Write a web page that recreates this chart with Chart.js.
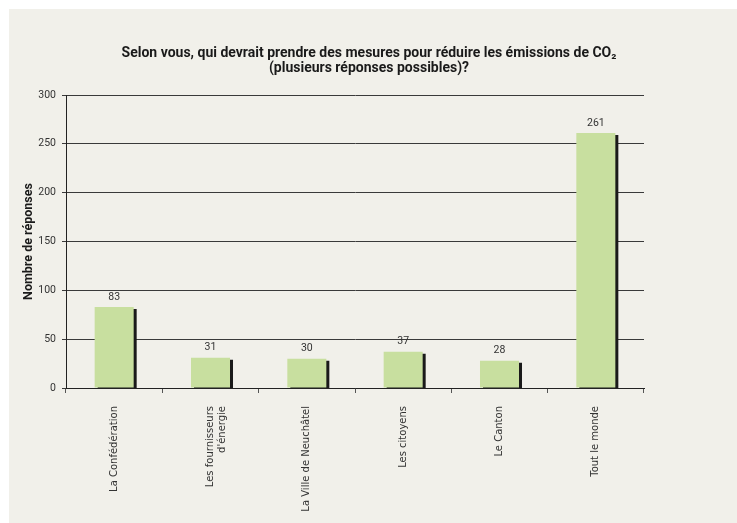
<!DOCTYPE html>
<html>
<head>
<meta charset="utf-8">
<script src="https://cdn.jsdelivr.net/npm/chart.js@4/dist/chart.umd.min.js"></script>
<style>
  html, body { margin: 0; padding: 0; background: #ffffff; }
  #panel {
    position: absolute;
    left: 9px;
    top: 9px;
    width: 728px;
    height: 514px;
    background: #f1f0ea;
  }
</style>
</head>
<body>
<div id="panel"><canvas id="chart" width="728" height="514"></canvas></div>
<script>
const categories = [
  "La Confédération",
  ["Les fournisseurs", "d'énergie"],
  "La Ville de Neuchâtel",
  "Les citoyens",
  "Le Canton",
  "Tout le monde",
];
const responses = [83, 31, 30, 37, 28, 261];
const yTicks = [0, 50, 100, 150, 200, 250, 300];

const titleLines = [
  "Selon vous, qui devrait prendre des mesures pour réduire les émissions de CO₂",
  "(plusieurs réponses possibles)?",
];

// title centred on the whole panel, not only the plot
const panelTitle = {
  id: "panelTitle",
  afterDraw(chart) {
    const ctx = chart.ctx;
    ctx.save();
    ctx.font = "bold 14px Roboto";
    ctx.fillStyle = "#1a1a1a";
    ctx.textAlign = "center";
    ctx.textBaseline = "middle";
    titleLines.forEach((line, i) => {
      ctx.fillText(line, 360, 44 + i * 15);
    });
    ctx.restore();
  },
};

// black drop shadow on the right side of each bar
const barShadow = {
  id: "barShadow",
  beforeDatasetDraw(chart) {
    const ctx = chart.ctx;
    ctx.save();
    ctx.shadowColor = "#1a1a1a";
    ctx.shadowBlur = 0;
    ctx.shadowOffsetX = 3;
    ctx.shadowOffsetY = 2;
  },
  afterDatasetDraw(chart) {
    chart.ctx.restore();
  },
};

// value above each bar
const valueLabels = {
  id: "valueLabels",
  afterDatasetsDraw(chart) {
    const ctx = chart.ctx;
    const meta = chart.getDatasetMeta(0);
    ctx.save();
    ctx.font = "10.5px Roboto";
    ctx.fillStyle = "#333333";
    ctx.textAlign = "center";
    ctx.textBaseline = "middle";
    meta.data.forEach((bar, i) => {
      ctx.fillText(String(responses[i]), bar.x, bar.y - 10);
    });
    ctx.restore();
  },
};

const ctx = document.getElementById("chart").getContext("2d");
new Chart(ctx, {
  type: "bar",
  data: {
    labels: categories,
    datasets: [
      {
        data: responses,
        backgroundColor: "#c8df9f",
        borderWidth: 0,
        barPercentage: 0.405,
        categoryPercentage: 1,
      },
    ],
  },
  options: {
    responsive: false,
    animation: false,
    layout: { padding: { left: 0, right: 93, top: 86, bottom: 0 } },
    plugins: {
      legend: { display: false },
      tooltip: { enabled: false },
      title: { display: false },
    },
    scales: {
      x: {
        afterFit(scale) {
          scale.height = 135;
        },
        border: { color: "#222222", width: 1 },
        grid: {
          drawOnChartArea: false,
          drawTicks: true,
          tickLength: 5,
          color: "#555555",
        },
        ticks: {
          minRotation: 90,
          maxRotation: 90,
          autoSkip: false,
          padding: 13,
          color: "#333333",
          font: { family: "DejaVu Sans", size: 10 },
        },
      },
      y: {
        min: 0,
        max: 300,
        afterFit(scale) {
          scale.width = 57;
        },
        afterBuildTicks(scale) {
          scale.ticks = yTicks.map((v) => ({ value: v }));
        },
        border: { color: "#222222", width: 1 },
        grid: {
          color: "#3a3a3a",
          lineWidth: 1,
          drawTicks: true,
          tickLength: 4,
        },
        ticks: {
          padding: 6,
          color: "#333333",
          font: { family: "Roboto", size: 10.5 },
        },
        title: {
          display: true,
          text: "Nombre de réponses",
          color: "#1a1a1a",
          font: { family: "Roboto", size: 12.5, weight: "bold" },
          padding: { top: 12, bottom: 0 },
        },
      },
    },
  },
  plugins: [barShadow, valueLabels, panelTitle],
});
</script>
</body>
</html>
